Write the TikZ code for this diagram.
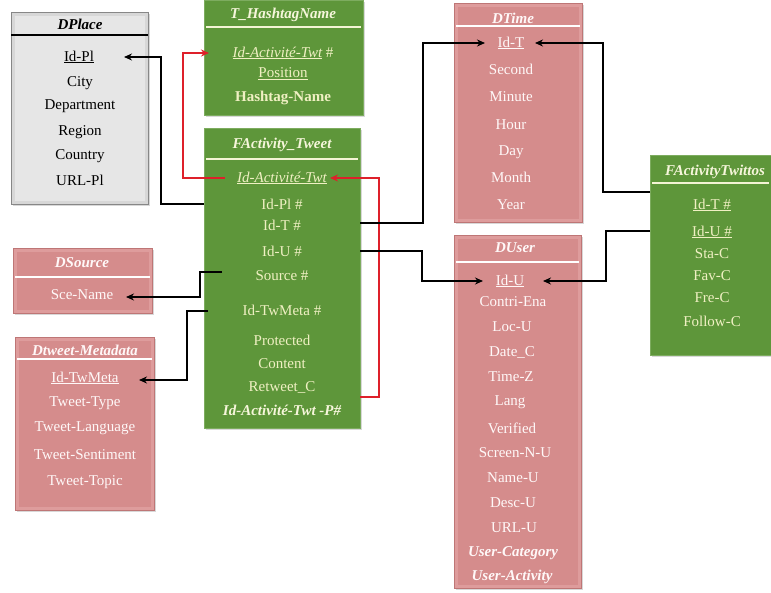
\documentclass[tikz,border=0pt]{standalone}
\usepackage{fontspec}
\setmainfont{Liberation Serif}
\usetikzlibrary{calc,arrows.meta,shadows}
\definecolor{gfill}{RGB}{94,150,58}
\definecolor{gedge}{RGB}{125,172,95}
\definecolor{gtext}{RGB}{240,240,195}
\definecolor{pfill}{RGB}{213,140,140}
\definecolor{pband}{RGB}{222,156,156}
\definecolor{pedge}{RGB}{190,118,118}
\definecolor{ptext}{RGB}{255,248,248}
\definecolor{grfill}{RGB}{230,230,230}
\definecolor{grband}{RGB}{215,215,215}
\definecolor{gredge}{RGB}{135,135,135}
\definecolor{redl}{RGB}{222,32,42}
\tikzset{
  boxbase/.style={rectangle, inner sep=0, outer sep=0, drop shadow={shadow xshift=1.5pt, shadow yshift=-1.5pt, opacity=0.3}},
  greenbox/.style={boxbase, fill=gfill, draw=gedge, line width=0.8pt},
  pinkbox/.style={boxbase, fill=pfill, draw=pedge, line width=0.8pt, path picture={\draw[pband,line width=7pt] (path picture bounding box.south west) rectangle (path picture bounding box.north east);}},
  graybox/.style={boxbase, fill=grfill, draw=gredge, line width=1pt, path picture={\draw[grband,line width=7pt] (path picture bounding box.south west) rectangle (path picture bounding box.north east);}},
  txt/.style={inner sep=0, font=\fontsize{15}{17}\selectfont},
  hdr/.style={inner sep=0, font=\fontsize{15}{17}\selectfont\bfseries\itshape},
  gt/.style={txt, text=gtext}, gh/.style={hdr, text=gtext!60!white},
  pt/.style={txt, text=ptext}, ph/.style={hdr, text=ptext},
  kt/.style={txt, text=black}, kh/.style={hdr, text=black},
  gdiv/.style={draw=gtext!70!white, line width=1.2pt},
  pdiv/.style={draw=white, line width=1.2pt},
  kdiv/.style={draw=black, line width=1.2pt},
  conn/.style={draw=black, line width=2pt, -{Stealth[length=8pt,width=7pt]}},
  redc/.style={draw=redl, line width=2pt, -{Stealth[length=8pt,width=7pt]}}
}
\begin{document}
\begin{tikzpicture}[x=1pt,y=-1pt]
\useasboundingbox (0,0) rectangle (771,592);
\fill[white] (0,0) rectangle (771,592);

% boxes
\node[graybox, minimum width=137, minimum height=192] (bplace) at (79.5,108) {};
\node[greenbox, minimum width=159, minimum height=115] (bhash) at (283.5,57.5) {};
\node[greenbox, minimum width=156, minimum height=300] (btweet) at (282,278) {};
\node[pinkbox, minimum width=128, minimum height=219] (btime) at (518,112.5) {};
\node[pinkbox, minimum width=127, minimum height=353] (buser) at (517.5,411.5) {};
\node[greenbox, minimum width=121, minimum height=200] (btwit) at (710.5,255) {};
\node[pinkbox, minimum width=139, minimum height=65] (bsource) at (82.5,280.5) {};
\node[pinkbox, minimum width=139, minimum height=173] (bmeta) at (84.5,423.5) {};

% dividers
\draw[kdiv] ([yshift=-23pt]bplace.north west) -- ([yshift=-23pt]bplace.north east);
\draw[gdiv] ([xshift=2pt,yshift=-27pt]bhash.north west) -- ([xshift=-2pt,yshift=-27pt]bhash.north east);
\draw[gdiv] ([xshift=2pt,yshift=-31pt]btweet.north west) -- ([xshift=-2pt,yshift=-31pt]btweet.north east);
\draw[pdiv] ([xshift=2pt,yshift=-23pt]btime.north west) -- ([xshift=-2pt,yshift=-23pt]btime.north east);
\draw[pdiv] ([xshift=2pt,yshift=-27pt]buser.north west) -- ([xshift=-2pt,yshift=-27pt]buser.north east);
\draw[gdiv] ([xshift=2pt,yshift=-28pt]btwit.north west) -- ([xshift=-2pt,yshift=-28pt]btwit.north east);
\draw[pdiv] ([xshift=2pt,yshift=-29pt]bsource.north west) -- ([xshift=-2pt,yshift=-29pt]bsource.north east);
\draw[pdiv] ([xshift=2pt,yshift=-22pt]bmeta.north west) -- ([xshift=-2pt,yshift=-22pt]bmeta.north east);

% DPlace
\node[kh] (hplace) at (80,24) {DPlace};
\node[kt] (pidpl) at (79,57) {\underline{Id-Pl}};
\node[kt] (pcity) at (80,83) {City};
\node[kt] (pdep) at (80,106) {Department};
\node[kt] (preg) at (80,132) {Region};
\node[kt] (pcty) at (80,156) {Country};
\node[kt] (purl) at (80,180) {URL-Pl};

% T_HashtagName
\node[gh] (hhash) at (283,15) {T\_HashtagName};
\node[gt] (hact) at (283,53) {\textit{\underline{Id-Activité-Twt}} \#};
\node[gt] (hpos) at (283,74) {\underline{Position}};
\node[gt,font=\fontsize{15}{17}\selectfont\bfseries] (hname) at (283,98) {Hashtag-Name};

% FActivity_Tweet
\node[gh] (htweet) at (282,145) {FActivity\_Tweet};
\node[gt] (tact) at (282,178) {\textit{\underline{Id-Activité-Twt}}};
\node[gt] (tpl) at (282,204) {Id-Pl \#};
\node[gt] (tidt) at (282,225) {Id-T \#};
\node[gt] (tidu) at (282,251) {Id-U \#};
\node[gt] (tsrc) at (282,276) {Source \#};
\node[gt] (ttwm) at (282,310) {Id-TwMeta \#};
\node[gt] (tprot) at (282,340) {Protected};
\node[gt] (tcont) at (282,364) {Content};
\node[gt] (tret) at (282,387) {Retweet\_C};
\node[gh] (tidp) at (282,410) {Id-Activité-Twt -P\#};

% DTime
\node[ph] (htime) at (513,18) {DTime};
\node[pt] (tmid) at (511,43) {\underline{Id-T}};
\node[pt] (tsec) at (511,69) {Second};
\node[pt] (tmin) at (511,97) {Minute};
\node[pt] (thour) at (511,125) {Hour};
\node[pt] (tday) at (511,152) {Day};
\node[pt] (tmon) at (511,177) {Month};
\node[pt] (tyear) at (511,205) {Year};

% DUser
\node[ph] (huser) at (515,248) {DUser};
\node[pt] (uid) at (510,281) {\underline{Id-U}};
\node[pt] (ucon) at (513,302) {Contri-Ena};
\node[pt] (uloc) at (512,327) {Loc-U};
\node[pt] (udat) at (512,352) {Date\_C};
\node[pt] (utz) at (511,377) {Time-Z};
\node[pt] (ulang) at (510,402) {Lang};
\node[pt] (uver) at (512,428) {Verified};
\node[pt] (uscr) at (515,453) {Screen-N-U};
\node[pt] (uname) at (513,478) {Name-U};
\node[pt] (udesc) at (513,503) {Desc-U};
\node[pt] (uurl) at (514,528) {URL-U};
\node[ph] (ucat) at (513,553) {User-Category};
\node[ph] (uact) at (512,577) {User-Activity};

% FActivityTwittos
\node[gh] (htwit) at (715,172) {FActivityTwittos};
\node[gt] (wt) at (712,205) {\underline{Id-T \#}};
\node[gt] (wu) at (712,232) {\underline{Id-U \#}};
\node[gt] (wsta) at (712,254) {Sta-C};
\node[gt] (wfav) at (712,276) {Fav-C};
\node[gt] (wfre) at (712,298) {Fre-C};
\node[gt] (wfol) at (712,321) {Follow-C};

% DSource
\node[ph] (hsrc) at (82,263) {DSource};
\node[pt] (ssce) at (82,295) {Sce-Name};

% Dtweet-Metadata
\node[ph] (hmeta) at (85,350) {Dtweet-Metadata};
\node[pt] (mid) at (85,378) {\underline{Id-TwMeta}};
\node[pt] (mtype) at (85,403) {Tweet-Type};
\node[pt] (mlang) at (85,428) {Tweet-Language};
\node[pt] (msent) at (85,455) {Tweet-Sentiment};
\node[pt] (mtop) at (85,482) {Tweet-Topic};

% connectors
\draw[conn] (btweet.west |- tpl) -- ++(-43,0) |- ($(pidpl.center)+(45,0)$);
\draw[redc] ($(tact.center)+(-57,0)$) -- ++(-42,0) |- ($(hact.center)+(-74,0)$);
\draw[redc] ($(btweet.east |- tret)+(0,10)$) -- ++(19,0) |- ($(tact.center)+(48,0)$);
\draw[conn] ($(btweet.east |- tidt)+(0,-2)$) -- ++(63,0) |- ($(tmid.center)+(-26,0)$);
\draw[conn] (btweet.east |- tidu) -- ++(62,0) |- ($(uid.center)+(-27,0)$);
\draw[conn] ($(btwit.west |- wt)+(0,-13)$) -- ++(-47,0) |- ($(tmid.center)+(24,0)$);
\draw[conn] ($(btwit.west |- wu)+(0,-1)$) -- ++(-44,0) |- ($(uid.center)+(33,0)$);
\draw[conn] ($(tsrc.center)+(-60,-4)$) -- ++(-22,0) |- ($(ssce.center)+(44,2)$);
\draw[conn] ($(ttwm.center)+(-74,1)$) -- ++(-21,0) |- ($(mid.center)+(54,2)$);
\end{tikzpicture}
\end{document}
